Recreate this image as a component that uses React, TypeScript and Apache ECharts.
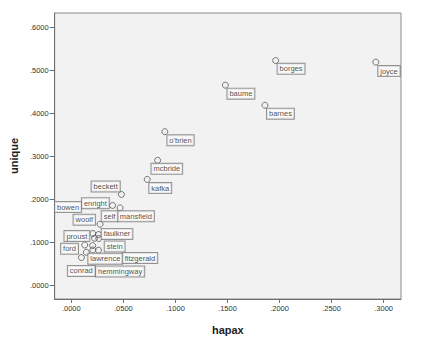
import React, { useEffect, useRef } from "react";
import * as echarts from "echarts";

const names = [
  "borges", "joyce", "baume", "barnes", "o'brien", "mcbride", "kafka",
  "beckett", "enright", "mansfield", "self", "proust", "faulkner", "woolf",
  "bowen", "ford", "stein", "lawrence", "hemmingway", "fitzgerald", "conrad",
];
const hapax = [
  0.1963, 0.2925, 0.148, 0.186, 0.0898, 0.0829, 0.0729,
  0.0481, 0.0396, 0.0468, 0.0276, 0.0207, 0.0261, 0.0223,
  0.0264, 0.0129, 0.0205, 0.0144, 0.0207, 0.0261, 0.0097,
];
const unique = [
  0.5235, 0.5198, 0.4662, 0.4196, 0.358, 0.2914, 0.2471,
  0.2121, 0.1865, 0.1809, 0.1429, 0.1212, 0.1189, 0.1103,
  0.1096, 0.0946, 0.0932, 0.0776, 0.083, 0.0823, 0.0653,
];
const xTicks = [0, 0.05, 0.1, 0.15, 0.2, 0.25, 0.3];
const yTicks = [0, 0.1, 0.2, 0.3, 0.4, 0.5, 0.6];

// label placement (layout only): label centre offset from its point, px
const labelNudge: Record<string, [number, number]> = {
  borges: [15.4, 8.3],
  joyce: [13.2, 9],
  baume: [15.5, 8.5],
  barnes: [15.5, 8.5],
  "o'brien": [15.7, 8.6],
  mcbride: [9.2, 8.5],
  kafka: [13, 8.7],
  beckett: [-15.7, -8],
  enright: [-17.2, -2.3],
  mansfield: [15.8, 8.3],
  self: [9.5, -8],
  proust: [-16, 2.5],
  faulkner: [18.5, -0.6],
  woolf: [-10.2, -18.5],
  bowen: [-30.8, -31.5],
  ford: [-15.2, 3.8],
  stein: [22, 0.9],
  lawrence: [19, 6.5],
  hemmingway: [27.2, 21.5],
  fitzgerald: [41.5, 7.8],
  conrad: [-0.1, 13.4],
};

const fmt = (v: number) => v.toFixed(4).replace(/^0/, "");

export default function App() {
  const ref = useRef<HTMLDivElement>(null);
  useEffect(() => {
    document.body.style.margin = "0";
    const chart = echarts.init(ref.current!, null, { renderer: "svg" });
    const data = names.map((n, i) => ({
      name: n,
      value: [hapax[i], unique[i]],
      label: { offset: labelNudge[n] || [0, 0] },
    }));
    chart.setOption({
      animation: false,
      backgroundColor: "#ffffff",
      textStyle: { fontFamily: "Liberation Sans" },
      grid: {
        left: 48,
        top: 13,
        right: 29,
        bottom: 56,
        show: true,
        backgroundColor: "#f2f2f2",
        borderColor: "#8c8c8c",
        borderWidth: 1,
      },
      xAxis: {
        type: "value",
        min: -0.016,
        max: 0.3167,
        name: "hapax",
        nameLocation: "middle",
        nameGap: 25,
        nameTextStyle: { fontSize: 11, fontWeight: "bold", color: "#222", fontFamily: "Liberation Sans" },
        splitLine: { show: false },
        axisLine: { show: true, onZero: false, lineStyle: { color: "#6e6e6e", width: 1 } },
        axisTick: { show: true, length: 4, customValues: xTicks, lineStyle: { color: "#6e6e6e" } },
        axisLabel: {
          customValues: xTicks,
          formatter: (v: number) => fmt(v),
          fontSize: 7.5,
          color: "#333",
          margin: 5,
        },
      },
      yAxis: {
        type: "value",
        min: -0.031,
        max: 0.634,
        name: "unique",
        nameLocation: "middle",
        nameGap: 33,
        nameRotate: 90,
        nameTextStyle: { fontSize: 11, fontWeight: "bold", color: "#222", fontFamily: "Liberation Sans" },
        splitLine: { show: false },
        axisLine: { show: true, onZero: false, lineStyle: { color: "#6e6e6e", width: 1 } },
        axisTick: { show: true, length: 5, customValues: yTicks, lineStyle: { color: "#6e6e6e" } },
        axisLabel: {
          customValues: yTicks,
          formatter: (v: number) => fmt(v),
          fontSize: 7.5,
          color: "#333",
          margin: 6,
        },
      },
      series: [
        {
          type: "scatter",
          data,
          symbol: "circle",
          symbolSize: 6,
          itemStyle: { color: "rgba(0,0,0,0)", borderColor: "#555", borderWidth: 1 },
          label: {
            show: true,
            position: "inside",
            formatter: (p: any) => p.name,
            fontSize: 7.5,
            fontFamily: "Liberation Sans",
            color: "#222",
            textBorderWidth: 0,
            textBorderColor: "transparent",
            textShadowBlur: 0,
            backgroundColor: "#fbfbfb",
            borderColor: "#7a7a7a",
            borderWidth: 1,
            padding: [1, 2, 1, 2],
            lineHeight: 8,
          },
          emphasis: { disabled: true },
        },
      ],
    });
    return () => chart.dispose();
  }, []);
  return (
    <div
      ref={ref}
      style={{ position: "fixed", left: 0, top: 0, width: 430, height: 355 }}
    />
  );
}
